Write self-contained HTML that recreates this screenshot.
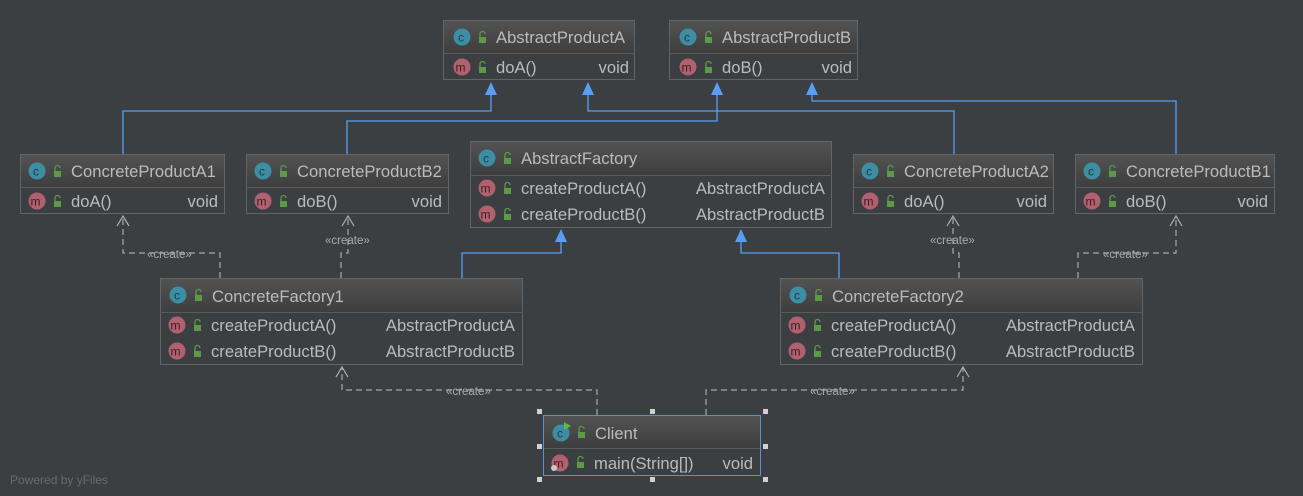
<!DOCTYPE html>
<html><head><meta charset="utf-8"><style>
html,body{margin:0;padding:0;background:#3c3f41;}
svg{display:block;}
text{font-family:"Liberation Sans",Arial,sans-serif;}
.n{fill:#bbbbbb;font-size:16.6px;}
.r{fill:#bbbbbb;font-size:16.6px;}
.ic{font-size:12px;}
.lbl{fill:#aaaaaa;font-size:11.5px;}
</style></head><body>
<svg width="1303" height="496" viewBox="0 0 1303 496" xmlns="http://www.w3.org/2000/svg">
<defs>
<linearGradient id="hg" x1="0" y1="0" x2="0" y2="1"><stop offset="0" stop-color="#535353"/><stop offset="1" stop-color="#3e3e3e"/></linearGradient>
<g id="ci"><circle r="8.5" fill="#3d8da5"/><text x="-4" y="4.5" class="ic" fill="#1e3a44">c</text></g>
<g id="mi"><circle r="8.5" fill="#b0606e"/><text x="-6.5" y="4.5" class="ic" fill="#3a1e22">m</text></g>
<g id="lk"><rect x="-3" y="-1" width="7" height="6" fill="#5b9a48"/><path d="M-2,-1 v-3 a2.5,2.5 0 0 1 5,0" fill="none" stroke="#5b9a48" stroke-width="1.3"/></g>
</defs>
<rect width="1303" height="496" fill="#3c3f41"/>

<g stroke="#589df6" stroke-width="1.3" fill="none">
<polyline points="123,154 123,111 491,111 491,94"/>
<polyline points="347,154 347,121 717,121 717,94"/>
<polyline points="954,154 954,111 588,111 588,94"/>
<polyline points="1176,154 1176,101 812,101 812,94"/>
<polyline points="462,278 462,253 561,253 561,241"/>
<polyline points="839,278 839,253 741,253 741,241"/>
</g>
<g fill="#589df6">
<polygon points="491,82 485,95 497,95"/>
<polygon points="588,82 582,95 594,95"/>
<polygon points="717,82 711,95 723,95"/>
<polygon points="812,82 806,95 818,95"/>
<polygon points="561,229 555,242 567,242"/>
<polygon points="741,229 735,242 747,242"/>
</g>

<g stroke="#a8a8a8" stroke-width="1.2" fill="none" stroke-dasharray="6,4">
<polyline points="220,278 220,253 123,253 123,217"/>
<polyline points="341,278 341,253 348,253 348,217"/>
<polyline points="959,278 959,253 953,253 953,217"/>
<polyline points="1078,278 1078,253 1176,253 1176,217"/>
<polyline points="597,415 597,390 342,390 342,368"/>
<polyline points="706,415 706,390 963,390 963,368"/>
</g>
<g stroke="#b0b0b0" stroke-width="1.2" fill="none">
<polyline points="117,226 123,216 129,226"/>
<polyline points="342,226 348,216 354,226"/>
<polyline points="947,226 953,216 959,226"/>
<polyline points="1170,226 1176,216 1182,226"/>
<polyline points="336,377 342,367 348,377"/>
<polyline points="957,377 963,367 969,377"/>
</g>
<g class="lbl">
<text x="147" y="258">«create»</text>
<text x="325" y="244">«create»</text>
<text x="930" y="244">«create»</text>
<text x="1103" y="258">«create»</text>
<text x="446" y="395">«create»</text>
<text x="810" y="395">«create»</text>
</g>

<g transform="translate(443,20)">
<rect x="0" y="0" width="192" height="33" fill="url(#hg)"/>
<rect x="0.5" y="0.5" width="191" height="59" fill="none" stroke="#646464"/>
<line x1="0" y1="33.5" x2="192" y2="33.5" stroke="#5a5a5a"/>
<use href="#ci" x="19" y="17"/><use href="#lk" x="39" y="18"/>
<text x="53" y="23" class="n">AbstractProductA</text>
<use href="#mi" x="19" y="47"/><use href="#lk" x="39" y="48"/>
<text x="53" y="53" class="n">doA()</text><text x="186" y="53" class="r" text-anchor="end">void</text>
</g>
<g transform="translate(669,20)">
<rect x="0" y="0" width="189" height="33" fill="url(#hg)"/>
<rect x="0.5" y="0.5" width="188" height="59" fill="none" stroke="#646464"/>
<line x1="0" y1="33.5" x2="189" y2="33.5" stroke="#5a5a5a"/>
<use href="#ci" x="19" y="17"/><use href="#lk" x="39" y="18"/>
<text x="53" y="23" class="n">AbstractProductB</text>
<use href="#mi" x="19" y="47"/><use href="#lk" x="39" y="48"/>
<text x="53" y="53" class="n">doB()</text><text x="183" y="53" class="r" text-anchor="end">void</text>
</g>

<g transform="translate(20,154)">
<rect x="0" y="0" width="205" height="33" fill="url(#hg)"/>
<rect x="0.5" y="0.5" width="204" height="59" fill="none" stroke="#646464"/>
<line x1="0" y1="33.5" x2="205" y2="33.5" stroke="#5a5a5a"/>
<use href="#ci" x="17" y="17"/><use href="#lk" x="37" y="18"/>
<text x="51" y="23" class="n">ConcreteProductA1</text>
<use href="#mi" x="17" y="47"/><use href="#lk" x="37" y="48"/>
<text x="51" y="53" class="n">doA()</text><text x="198" y="53" class="r" text-anchor="end">void</text>
</g>
<g transform="translate(246,154)">
<rect x="0" y="0" width="203" height="33" fill="url(#hg)"/>
<rect x="0.5" y="0.5" width="202" height="59" fill="none" stroke="#646464"/>
<line x1="0" y1="33.5" x2="203" y2="33.5" stroke="#5a5a5a"/>
<use href="#ci" x="17" y="17"/><use href="#lk" x="37" y="18"/>
<text x="51" y="23" class="n">ConcreteProductB2</text>
<use href="#mi" x="17" y="47"/><use href="#lk" x="37" y="48"/>
<text x="51" y="53" class="n">doB()</text><text x="196" y="53" class="r" text-anchor="end">void</text>
</g>
<g transform="translate(853,154)">
<rect x="0" y="0" width="201" height="33" fill="url(#hg)"/>
<rect x="0.5" y="0.5" width="200" height="59" fill="none" stroke="#646464"/>
<line x1="0" y1="33.5" x2="201" y2="33.5" stroke="#5a5a5a"/>
<use href="#ci" x="17" y="17"/><use href="#lk" x="37" y="18"/>
<text x="51" y="23" class="n">ConcreteProductA2</text>
<use href="#mi" x="17" y="47"/><use href="#lk" x="37" y="48"/>
<text x="51" y="53" class="n">doA()</text><text x="194" y="53" class="r" text-anchor="end">void</text>
</g>
<g transform="translate(1075,154)">
<rect x="0" y="0" width="200" height="33" fill="url(#hg)"/>
<rect x="0.5" y="0.5" width="199" height="59" fill="none" stroke="#646464"/>
<line x1="0" y1="33.5" x2="200" y2="33.5" stroke="#5a5a5a"/>
<use href="#ci" x="17" y="17"/><use href="#lk" x="37" y="18"/>
<text x="51" y="23" class="n">ConcreteProductB1</text>
<use href="#mi" x="17" y="47"/><use href="#lk" x="37" y="48"/>
<text x="51" y="53" class="n">doB()</text><text x="193" y="53" class="r" text-anchor="end">void</text>
</g>

<g transform="translate(470,141)">
<rect x="0" y="0" width="362" height="34" fill="url(#hg)"/>
<rect x="0.5" y="0.5" width="361" height="86" fill="none" stroke="#646464"/>
<line x1="0" y1="34.5" x2="362" y2="34.5" stroke="#5a5a5a"/>
<use href="#ci" x="17" y="17"/><use href="#lk" x="37" y="18"/>
<text x="51" y="23" class="n">AbstractFactory</text>
<use href="#mi" x="17" y="47"/><use href="#lk" x="37" y="48"/>
<text x="51" y="53" class="n">createProductA()</text><text x="355" y="53" class="r" text-anchor="end">AbstractProductA</text>
<use href="#mi" x="17" y="73"/><use href="#lk" x="37" y="74"/>
<text x="51" y="79" class="n">createProductB()</text><text x="355" y="79" class="r" text-anchor="end">AbstractProductB</text>
</g>
<g transform="translate(160,278)">
<rect x="0" y="0" width="363" height="34" fill="url(#hg)"/>
<rect x="0.5" y="0.5" width="362" height="86" fill="none" stroke="#646464"/>
<line x1="0" y1="34.5" x2="363" y2="34.5" stroke="#5a5a5a"/>
<use href="#ci" x="18" y="17"/><use href="#lk" x="38" y="18"/>
<text x="52" y="24" class="n">ConcreteFactory1</text>
<use href="#mi" x="17" y="47"/><use href="#lk" x="37" y="48"/>
<text x="51" y="53" class="n">createProductA()</text><text x="355" y="53" class="r" text-anchor="end">AbstractProductA</text>
<use href="#mi" x="17" y="73"/><use href="#lk" x="37" y="74"/>
<text x="51" y="79" class="n">createProductB()</text><text x="355" y="79" class="r" text-anchor="end">AbstractProductB</text>
</g>
<g transform="translate(780,278)">
<rect x="0" y="0" width="363" height="34" fill="url(#hg)"/>
<rect x="0.5" y="0.5" width="362" height="86" fill="none" stroke="#646464"/>
<line x1="0" y1="34.5" x2="363" y2="34.5" stroke="#5a5a5a"/>
<use href="#ci" x="18" y="17"/><use href="#lk" x="38" y="18"/>
<text x="52" y="24" class="n">ConcreteFactory2</text>
<use href="#mi" x="17" y="47"/><use href="#lk" x="37" y="48"/>
<text x="51" y="53" class="n">createProductA()</text><text x="355" y="53" class="r" text-anchor="end">AbstractProductA</text>
<use href="#mi" x="17" y="73"/><use href="#lk" x="37" y="74"/>
<text x="51" y="79" class="n">createProductB()</text><text x="355" y="79" class="r" text-anchor="end">AbstractProductB</text>
</g>

<g transform="translate(543,415)">
<rect x="0" y="0" width="218" height="33" fill="url(#hg)"/>
<line x1="0" y1="33.5" x2="218" y2="33.5" stroke="#5a5a5a"/>
<rect x="0.5" y="0.5" width="217" height="60" fill="none" stroke="#5b8fd6"/>
<use href="#ci" x="18" y="18"/><polygon points="21,7 28,11 21,15" fill="#5fb84a"/><use href="#lk" x="38" y="18"/>
<text x="52" y="24" class="n">Client</text>
<use href="#mi" x="17" y="48"/><circle cx="11" cy="53" r="3" fill="#ccc"/><use href="#lk" x="37" y="48"/>
<text x="51" y="54" class="n">main(String[])</text><text x="210" y="54" class="r" text-anchor="end">void</text>
</g>
<g fill="#d0d0d0">
<rect x="537" y="409" width="5" height="5"/><rect x="650" y="409" width="5" height="5"/><rect x="763" y="409" width="5" height="5"/>
<rect x="537" y="444" width="5" height="5"/><rect x="763" y="444" width="5" height="5"/>
<rect x="537" y="477" width="5" height="5"/><rect x="650" y="477" width="5" height="5"/><rect x="763" y="477" width="5" height="5"/>
</g>

<text x="10" y="484" style="fill:#6a6a6a;font-size:12px;">Powered by yFiles</text>
</svg>
</body></html>
